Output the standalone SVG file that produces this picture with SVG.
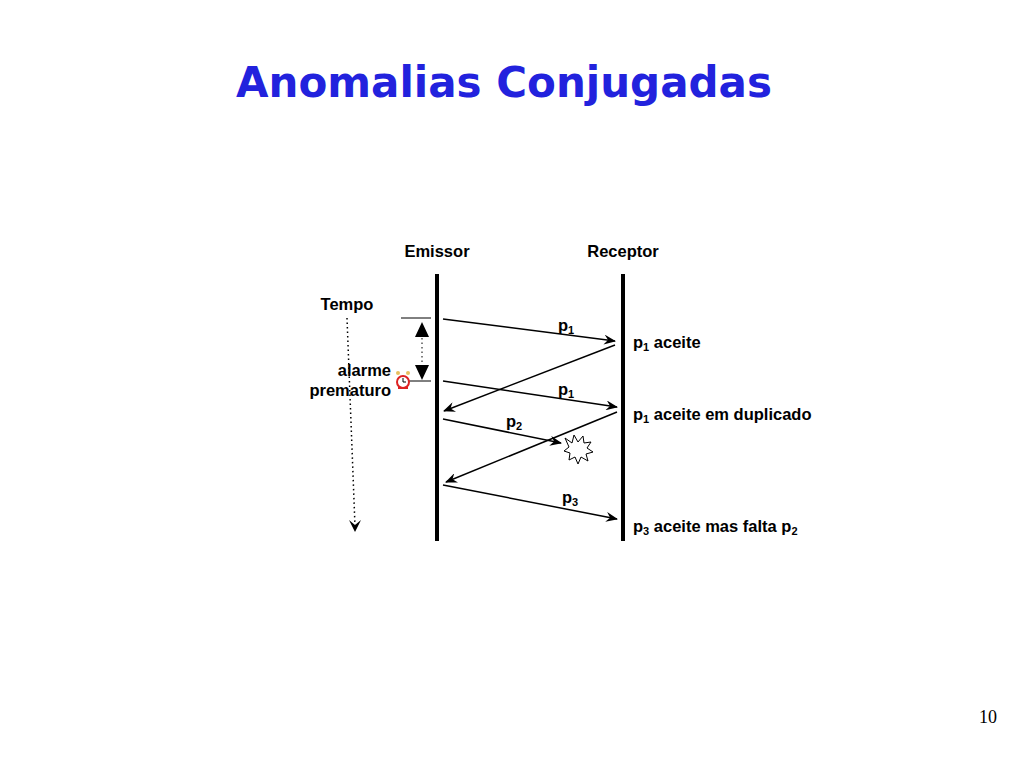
<svg xmlns="http://www.w3.org/2000/svg" width="1024" height="768" viewBox="0 0 1024 768">
<style>
.t{font-family:"Liberation Sans",Arial,sans-serif;font-weight:bold;font-size:16.5px;fill:#000}
.s{font-size:11px}
.m{stroke:#000;stroke-width:1.5;fill:none}
.life{stroke:#000;stroke-width:4}
</style>
<defs>
<marker id="a" markerWidth="12" markerHeight="10" refX="11" refY="5" orient="auto" markerUnits="userSpaceOnUse">
<path d="M0,0 L12,5 L0,10 L4,5 Z" fill="#000"/>
</marker>
</defs>
<rect width="1024" height="768" fill="#fff"/>
<text x="504" y="97" text-anchor="middle" font-family="'DejaVu Sans',sans-serif" font-weight="bold" font-size="42" fill="#2222dd">Anomalias Conjugadas</text>
<text x="988" y="723" text-anchor="middle" font-family="'Liberation Serif',serif" font-size="18">10</text>

<g id="emissor"><text class="t" x="437" y="257" text-anchor="middle">Emissor</text><line class="life" x1="437" y1="274" x2="437" y2="541"/></g>
<g id="receptor"><text class="t" x="623" y="257" text-anchor="middle">Receptor</text><line class="life" x1="623" y1="274" x2="623" y2="541"/></g>

<g id="tempo">
<text class="t" x="347" y="310" text-anchor="middle">Tempo</text>
<line x1="347" y1="318" x2="355" y2="526" stroke="#000" stroke-width="1.5" stroke-dasharray="1.5,3"/>
<path d="M349,520 L355,532 L361,520 L355,525 Z" fill="#000"/>
</g>

<g id="timer">
<line x1="401" y1="318" x2="431" y2="318" stroke="#000"/>
<line x1="401" y1="381" x2="431" y2="381" stroke="#000"/>
<polygon points="422,322 415,337 429,337" fill="#000"/>
<polygon points="422,380 415,365 429,365" fill="#000"/>
<line x1="422" y1="338" x2="422" y2="364" stroke="#000" stroke-dasharray="1.5,3"/>
<text class="t" x="391" y="376" text-anchor="end">alarme</text>
<text class="t" x="391" y="396" text-anchor="end">prematuro</text>
<g id="clock">
<circle cx="398" cy="373" r="2" fill="#e8c060"/><circle cx="408" cy="373" r="2" fill="#e8c060"/>
<circle cx="403" cy="382" r="6" fill="#fff" stroke="#d22" stroke-width="2"/>
<line x1="403" y1="382" x2="403" y2="378" stroke="#000"/><line x1="403" y1="382" x2="406" y2="382" stroke="#000"/>
<line x1="398" y1="388" x2="408" y2="388" stroke="#d22" stroke-width="2"/>
</g>
</g>

<g id="connectors">
<line class="m" x1="443" y1="319" x2="615" y2="341" marker-end="url(#a)"/>
<line class="m" x1="615" y1="345" x2="444" y2="411" marker-end="url(#a)"/>
<line class="m" x1="443" y1="381" x2="617" y2="407" marker-end="url(#a)"/>
<line class="m" x1="617" y1="412" x2="446" y2="482" marker-end="url(#a)"/>
<line class="m" x1="443" y1="419" x2="561" y2="443" marker-end="url(#a)"/>
<line class="m" x1="443" y1="485" x2="617" y2="519" marker-end="url(#a)"/>
</g>

<g id="explosion">
<polygon points="565,438 572,443 574,435 578,442 583,436 584,443 591,442 587,448 593,452 586,454 588,461 581,457 578,464 575,457 569,460 570,453 564,451 569,447" fill="#fff" stroke="#000" stroke-width="1"/>
</g>

<g id="labels">
<text class="t" x="558" y="331">p<tspan class="s" dy="3">1</tspan></text>
<text class="t" x="558" y="395">p<tspan class="s" dy="3">1</tspan></text>
<text class="t" x="506" y="427">p<tspan class="s" dy="3">2</tspan></text>
<text class="t" x="562" y="503">p<tspan class="s" dy="3">3</tspan></text>
<text class="t" x="633" y="348">p<tspan class="s" dy="3">1</tspan><tspan dy="-3"> aceite</tspan></text>
<text class="t" x="633" y="420">p<tspan class="s" dy="3">1</tspan><tspan dy="-3"> aceite em duplicado</tspan></text>
<text class="t" x="633" y="532">p<tspan class="s" dy="3">3</tspan><tspan dy="-3"> aceite mas falta p</tspan><tspan class="s" dy="3">2</tspan></text>
</g>
</svg>
